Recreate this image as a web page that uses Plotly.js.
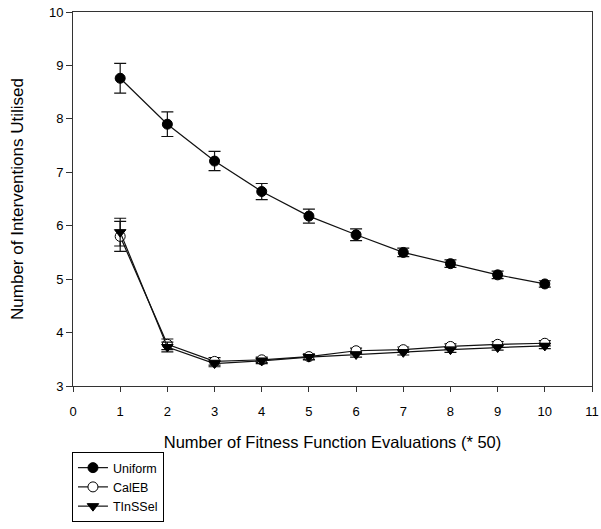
<!DOCTYPE html>
<html><head><meta charset="utf-8">
<script src="https://cdn.plot.ly/plotly-3.0.1.min.js"></script>
<style>
body{margin:0;padding:0;background:#fff}
#chart{width:601px;height:529px}
</style>
</head><body><div id="chart"></div>
<script>
const xVals = [1,2,3,4,5,6,7,8,9,10];
const uniformY = [8.76,7.90,7.21,6.64,6.18,5.83,5.50,5.29,5.08,4.91];
const uniformErr = [0.28,0.23,0.18,0.15,0.13,0.11,0.08,0.07,0.07,0.06];
const calebY = [5.80,3.78,3.46,3.49,3.55,3.66,3.68,3.74,3.78,3.80];
const calebErr = [0.28,0.10,0.07,0.05,0.05,0.05,0.05,0.05,0.05,0.05];
const tinsselY = [5.88,3.73,3.42,3.47,3.54,3.59,3.63,3.68,3.72,3.75];
const tinsselErr = [0.26,0.09,0.06,0.05,0.05,0.05,0.05,0.05,0.05,0.05];
const xTicks = [0,1,2,3,4,5,6,7,8,9,10,11];
const yTicks = [3,4,5,6,7,8,9,10];

function tr(name, y, err, symbol, fill){
  return {x:xVals, y:y, name:name, type:'scatter', mode:'lines+markers',
    line:{color:'#111', width:1.2},
    marker:{symbol:symbol, size:10, color:fill, line:{color:'#000', width:1}},
    error_y:{type:'data', array:err, visible:true, color:'#111', thickness:1.2, width:6}};
}
const data = [
  tr('Uniform', uniformY, uniformErr, 'circle', '#000'),
  tr('CalEB', calebY, calebErr, 'circle', '#fff'),
  tr('TInSSel', tinsselY, tinsselErr, 'triangle-down', '#000')
];
const layout = {
  width:601, height:529,
  margin:{l:73, r:9, t:12, b:143, autoexpand:false},
  paper_bgcolor:'#fff', plot_bgcolor:'#fff',
  font:{family:'Liberation Sans, Arial, sans-serif', size:13, color:'#000'},
  showlegend:true,
  legend:{x:-0.002, y:-0.1765, xanchor:'left', yanchor:'top', entrywidth:70,
    bordercolor:'#000', borderwidth:1, bgcolor:'#fff', font:{size:12.5}, tracegroupgap:0},
  xaxis:{range:[0,11], tickvals:xTicks, ticktext:xTicks.map(String), ticks:'outside', ticklen:5,
    ticklabelstandoff:8, tickcolor:'#333', showgrid:false, zeroline:false, showline:true, linecolor:'#333', linewidth:1,
    mirror:true, title:{text:'Number of Fitness Function Evaluations (* 50)', font:{size:16.5}, standoff:18}},
  yaxis:{range:[3,10], tickvals:yTicks, ticktext:yTicks.map(String), ticks:'outside', ticklen:6,
    tickcolor:'#333', showgrid:false, zeroline:false, showline:true, linecolor:'#333', linewidth:1,
    mirror:true, title:{text:'Number of Interventions Utilised', font:{size:17}, standoff:20}}
};
Plotly.newPlot('chart', data, layout, {displayModeBar:false});
</script></body></html>
